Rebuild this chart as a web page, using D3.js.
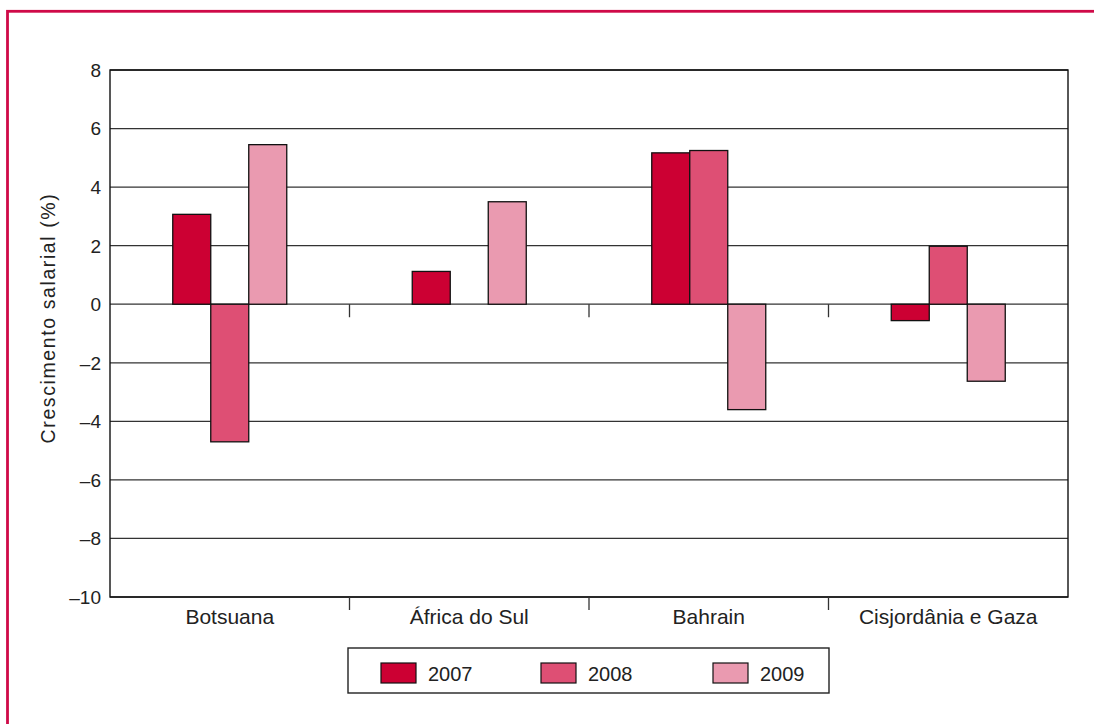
<!DOCTYPE html>
<html>
<head>
<meta charset="utf-8">
<script src="https://cdn.jsdelivr.net/npm/d3@7"></script>
<style>
  html, body { margin: 0; padding: 0; background: #fff; }
  svg { display: block; }
  text { font-family: "Liberation Sans", Arial, sans-serif; fill: #222; }
</style>
</head>
<body>
<svg id="chart" width="1094" height="724"></svg>
<script>
const categories = ["Botsuana", "África do Sul", "Bahrain", "Cisjordânia e Gaza"];
const seriesNames = ["2007", "2008", "2009"];
const values2007 = [3.07, 1.12, 5.17, -0.56];
const values2008 = [-4.7, null, 5.25, 1.98];
const values2009 = [5.45, 3.5, -3.6, -2.63];
const yTicks = [-10, -8, -6, -4, -2, 0, 2, 4, 6, 8];
const colors = ["#cc0033", "#de4f74", "#ea9ab0"];

const seriesValues = [values2007, values2008, values2009];
const svg = d3.select("#chart");

// outer frame
svg.append("rect")
  .attr("x", 7.5).attr("y", 11.3).attr("width", 1200).attr("height", 1000)
  .attr("fill", "none").attr("stroke", "#cf0a48").attr("stroke-width", 2.8);

const plotL = 110, plotR = 1068, plotT = 70, plotB = 597;
const y = d3.scaleLinear().domain([-10, 8]).range([plotB, plotT]);
const x0 = d3.scaleBand().domain(categories).range([plotL, plotR]).padding(0);
const groupW = 114;
const x1 = d3.scaleBand().domain(seriesNames)
  .range([x0.bandwidth() / 2 - groupW / 2, x0.bandwidth() / 2 + groupW / 2]).padding(0);

// gridlines
svg.append("g").selectAll("line").data(yTicks).join("line")
  .attr("x1", plotL).attr("x2", plotR)
  .attr("y1", d => y(d)).attr("y2", d => y(d))
  .attr("stroke", "#333").attr("stroke-width", 1.3);

// plot border
svg.append("rect")
  .attr("x", plotL).attr("y", plotT).attr("width", plotR - plotL).attr("height", plotB - plotT)
  .attr("fill", "none").attr("stroke", "#111").attr("stroke-width", 1.4);

// y tick labels
svg.append("g").selectAll("text").data(yTicks).join("text")
  .attr("x", plotL - 9).attr("y", d => y(d)).attr("dy", "0.36em")
  .attr("text-anchor", "end").attr("font-size", 19)
  .text(d => d < 0 ? "\u2013" + Math.abs(d) : d);

// x ticks at category boundaries (zero line and bottom)
const bounds = categories.slice(1).map(c => x0(c));
[y(0), plotB].forEach(yy => {
  svg.append("g").selectAll("line").data(bounds).join("line")
    .attr("x1", d => d).attr("x2", d => d)
    .attr("y1", yy).attr("y2", yy + 13)
    .attr("stroke", "#333").attr("stroke-width", 1.3);
});

// bars
const groups = svg.append("g").selectAll("g").data(categories).join("g")
  .attr("transform", c => `translate(${x0(c)},0)`);
groups.each(function (c, ci) {
  const g = d3.select(this);
  seriesNames.forEach((s, si) => {
    const v = seriesValues[si][ci];
    if (v === null) return;
    g.append("rect")
      .attr("x", x1(s)).attr("width", x1.bandwidth())
      .attr("y", y(Math.max(0, v))).attr("height", Math.abs(y(v) - y(0)))
      .attr("fill", colors[si]).attr("stroke", "#111").attr("stroke-width", 1.3);
  });
});

// category labels
svg.append("g").selectAll("text").data(categories).join("text")
  .attr("x", c => x0(c) + x0.bandwidth() / 2).attr("y", 624)
  .attr("text-anchor", "middle").attr("font-size", 21)
  .text(c => c);

// y axis title
svg.append("text")
  .attr("transform", `translate(55,318) rotate(-90)`)
  .attr("text-anchor", "middle").attr("font-size", 19.5)
  .attr("letter-spacing", 1.6)
  .text("Crescimento salarial (%)");

// legend
svg.append("rect")
  .attr("x", 348).attr("y", 648).attr("width", 481).attr("height", 45)
  .attr("fill", "none").attr("stroke", "#222").attr("stroke-width", 1.4);
const legendX = [381, 541, 713];
seriesNames.forEach((s, i) => {
  svg.append("rect")
    .attr("x", legendX[i]).attr("y", 663).attr("width", 35).attr("height", 20)
    .attr("fill", colors[i]).attr("stroke", "#111").attr("stroke-width", 1.2);
  svg.append("text")
    .attr("x", legendX[i] + 47).attr("y", 681)
    .attr("font-size", 20).text(s);
});
</script>
</body>
</html>
